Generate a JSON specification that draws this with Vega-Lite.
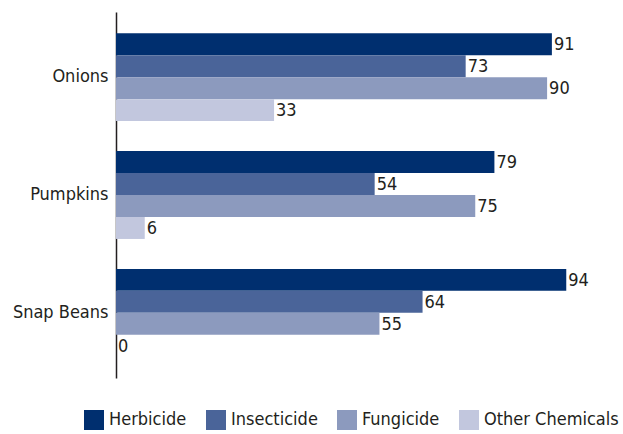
{
  "$schema": "https://vega.github.io/schema/vega-lite/v6.json",
  "width": 479,
  "height": 366,
  "padding": {"left": 12, "top": 12, "right": 5, "bottom": 5},
  "background": "white",
  "config": {
    "view": {"stroke": null},
    "font": "DejaVu Sans Condensed"
  },
  "data": {
    "values": [
      {"crop": "Onions", "chemical": "Herbicide", "value": 91},
      {"crop": "Onions", "chemical": "Insecticide", "value": 73},
      {"crop": "Onions", "chemical": "Fungicide", "value": 90},
      {"crop": "Onions", "chemical": "Other Chemicals", "value": 33},
      {"crop": "Pumpkins", "chemical": "Herbicide", "value": 79},
      {"crop": "Pumpkins", "chemical": "Insecticide", "value": 54},
      {"crop": "Pumpkins", "chemical": "Fungicide", "value": 75},
      {"crop": "Pumpkins", "chemical": "Other Chemicals", "value": 6},
      {"crop": "Snap Beans", "chemical": "Herbicide", "value": 94},
      {"crop": "Snap Beans", "chemical": "Insecticide", "value": 64},
      {"crop": "Snap Beans", "chemical": "Fungicide", "value": 55},
      {"crop": "Snap Beans", "chemical": "Other Chemicals", "value": 0}
    ]
  },
  "encoding": {
    "y": {
      "field": "crop", "type": "nominal", "sort": ["Onions", "Pumpkins", "Snap Beans"],
      "scale": {"paddingInner": 0.254, "paddingOuter": 0.18},
      "axis": {
        "title": null, "ticks": false, "domain": true, "domainColor": "#231F20", "domainWidth": 1.5,
        "labelFontSize": 18, "labelColor": "#231F20", "labelPadding": 8, "labelFont": "DejaVu Sans Condensed"
      }
    },
    "yOffset": {"field": "chemical", "type": "nominal", "sort": ["Herbicide", "Insecticide", "Fungicide", "Other Chemicals"], "scale": {"paddingInner": 0, "paddingOuter": 0}},
    "x": {"field": "value", "type": "quantitative", "scale": {"domain": [0, 100], "nice": false}, "axis": null}
  },
  "layer": [
    {
      "mark": {"type": "bar"},
      "encoding": {
        "color": {
          "field": "chemical", "type": "nominal",
          "sort": ["Herbicide", "Insecticide", "Fungicide", "Other Chemicals"],
          "scale": {"domain": ["Herbicide", "Insecticide", "Fungicide", "Other Chemicals"], "range": ["#002F6F", "#4A6499", "#8C9ABE", "#C2C7DE"]},
          "legend": {
            "orient": "none", "legendX": -32, "legendY": 398, "direction": "horizontal", "title": null,
            "symbolType": "square", "symbolSize": 400, "symbolStrokeWidth": 0,
            "labelFontSize": 18, "labelColor": "#231F20", "labelFont": "DejaVu Sans Condensed",
            "columnPadding": 19, "labelOffset": 5, "labelLimit": 300
          }
        }
      }
    },
    {
      "mark": {"type": "text", "align": "left", "dx": 2, "dy": 1, "fontSize": 18, "color": "#231F20", "font": "DejaVu Sans Condensed"},
      "encoding": {"text": {"field": "value", "type": "quantitative"}}
    }
  ]
}
